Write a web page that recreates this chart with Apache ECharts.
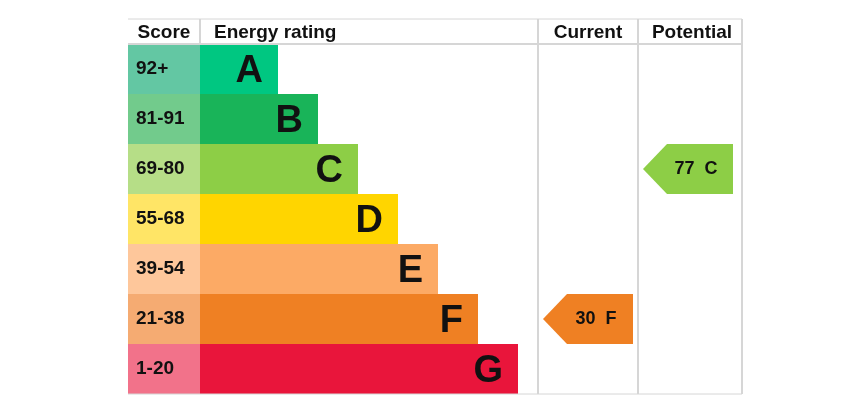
<!DOCTYPE html>
<html>
<head>
<meta charset="utf-8">
<script src="https://cdn.jsdelivr.net/npm/echarts@6/dist/echarts.min.js"></script>
<style>
  html, body { margin: 0; padding: 0; background: #fff; }
  #epc { width: 846px; height: 415px; }
</style>
</head>
<body>
<div id="epc"></div>
<script>
// EPC bands, top (best) to bottom
var bands = ['A', 'B', 'C', 'D', 'E', 'F', 'G'];
var scoreRanges = ['92+', '81-91', '69-80', '55-68', '39-54', '21-38', '1-20'];
var scoreMins = [92, 81, 69, 55, 39, 21, 1];
var barSteps = [2, 3, 4, 5, 6, 7, 8];
var bandColors = ['#00c781', '#19b459', '#8dce46', '#ffd500', '#fcaa65', '#ef8023', '#e9153b'];
var scoreColors = ['#63c7a3', '#72cb8c', '#b6de87', '#ffe566', '#fec79b', '#f5ab72', '#f2728a'];
var currentScore = 30;
var potentialScore = 77;
var headers = ['Score', 'Energy rating', 'Current', 'Potential'];

// table layout (px)
var colX = [128, 200, 538, 638, 742];
var tableTop = 19, headTop = 44, tableBottom = 394;
var lineColor = '#d6d6d6';
var font = '"Liberation Sans", Arial, sans-serif';

function bandOf(score) {
    for (var i = 0; i < scoreMins.length; i++) {
        if (score >= scoreMins[i]) return i;
    }
    return bands.length - 1;
}

function gridAt(i) {
    return { left: colX[i], top: headTop, width: colX[i + 1] - colX[i], height: tableBottom - headTop };
}

function yCat(i) {
    return { gridIndex: i, type: 'category', data: bands, inverse: true, show: false };
}

function arrowSeries(gridIdx, score) {
    var idx = bandOf(score);
    return {
        type: 'custom',
        xAxisIndex: gridIdx,
        yAxisIndex: gridIdx,
        data: [[0, idx, score]],
        renderItem: function (params, api) {
            var cs = params.coordSys;
            var c = api.coord([0, api.value(1)]);
            var h = api.size([0, 1])[1];
            var cy = c[1], x0 = cs.x;
            var tip = x0 + 5, body = x0 + 29, right = x0 + 95;
            var b = bands[api.value(1)];
            return {
                type: 'group',
                children: [{
                    type: 'polygon',
                    shape: { points: [[tip, cy], [body, cy - h / 2], [right, cy - h / 2], [right, cy + h / 2], [body, cy + h / 2]] },
                    style: { fill: bandColors[api.value(1)] }
                }, {
                    type: 'text',
                    style: {
                        x: (tip + right) / 2 + 8, y: cy,
                        text: api.value(2) + '  ' + b,
                        align: 'center', verticalAlign: 'middle',
                        font: 'bold 18px ' + font, fill: '#111'
                    }
                }]
            };
        }
    };
}

var frameLines = [
    [colX[0], tableTop, colX[4], tableTop, 1],
    [colX[0], headTop, colX[4], headTop, 2],
    [colX[0], tableBottom, colX[4], tableBottom, 1],
    [colX[1], tableTop, colX[1], headTop, 2],
    [colX[2], tableTop, colX[2], tableBottom, 2],
    [colX[3], tableTop, colX[3], tableBottom, 2],
    [colX[4], tableTop, colX[4], tableBottom, 2]
].map(function (l) {
    return { type: 'line', z: 100, shape: { x1: l[0], y1: l[1], x2: l[2], y2: l[3] }, style: { stroke: lineColor, lineWidth: l[4] } };
});

var headerTexts = headers.map(function (t, i) {
    var left = i === 1;
    return {
        type: 'text',
        x: left ? colX[1] + 14 : (colX[i] + colX[i + 1]) / 2 + (i === 3 ? 2 : 0),
        y: (tableTop + headTop) / 2 + 1,
        style: { text: t, align: left ? 'left' : 'center', verticalAlign: 'middle', font: 'bold 19px ' + font, fill: '#111' }
    };
});

var option = {
    backgroundColor: '#fff',
    animation: false,
    grid: [gridAt(0), gridAt(1), gridAt(2), gridAt(3)],
    xAxis: [
        { gridIndex: 0, type: 'value', min: 0, max: 1, show: false },
        { gridIndex: 1, type: 'value', min: 0.05, max: 8.5, show: false },
        { gridIndex: 2, type: 'value', min: 0, max: 1, show: false },
        { gridIndex: 3, type: 'value', min: 0, max: 1, show: false }
    ],
    yAxis: [yCat(0), yCat(1), yCat(2), yCat(3)],
    series: [{
        type: 'bar',
        xAxisIndex: 0, yAxisIndex: 0,
        barCategoryGap: '0%',
        data: scoreRanges.map(function (r, i) {
            return { value: 1, itemStyle: { color: scoreColors[i] } };
        }),
        label: {
            show: true, position: 'insideLeft', distance: 8,
            formatter: function (p) { return scoreRanges[p.dataIndex]; },
            fontFamily: font, fontWeight: 'bold', fontSize: 19, color: '#111'
        }
    }, {
        type: 'bar',
        xAxisIndex: 1, yAxisIndex: 1,
        barCategoryGap: '0%',
        data: barSteps.map(function (v, i) {
            return { value: v, itemStyle: { color: bandColors[i] } };
        }),
        label: {
            show: true, position: 'insideRight', distance: 15, offset: [0, 3],
            formatter: function (p) { return bands[p.dataIndex]; },
            fontFamily: font, fontWeight: 'bold', fontSize: 38, color: '#111'
        }
    },
        arrowSeries(2, currentScore),
        arrowSeries(3, potentialScore)
    ],
    graphic: frameLines.concat(headerTexts)
};

var myChart = echarts.init(document.getElementById('epc'));
myChart.setOption(option);
</script>
</body>
</html>
